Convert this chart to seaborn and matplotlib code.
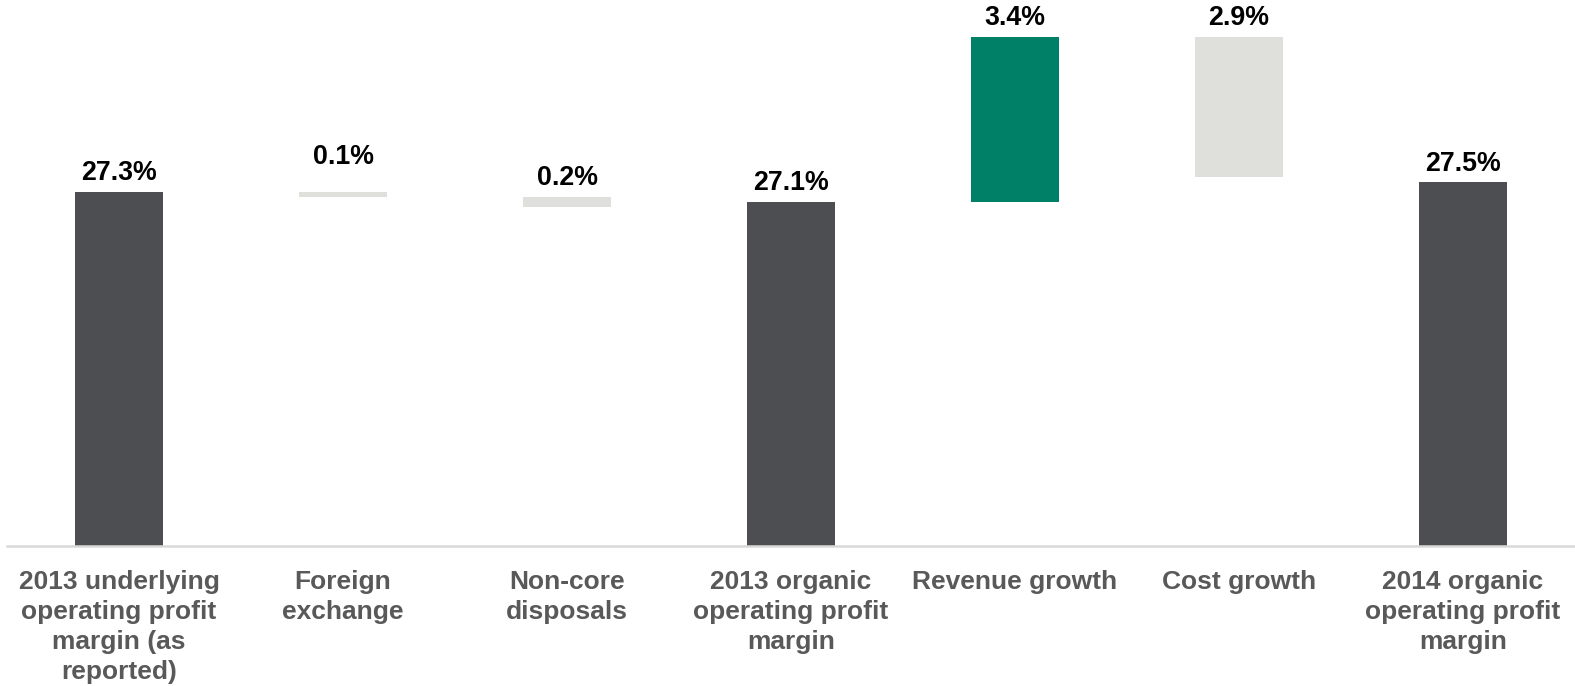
import numpy as np
import pandas as pd
import matplotlib
matplotlib.use("Agg")
import matplotlib.pyplot as plt
import seaborn as sns

# Operating profit margin bridge, 2013 -> 2014 (%)
categories = [
    "2013 underlying\noperating profit\nmargin (as\nreported)",
    "Foreign\nexchange",
    "Non-core\ndisposals",
    "2013 organic\noperating profit\nmargin",
    "Revenue growth",
    "Cost growth",
    "2014 organic\noperating profit\nmargin",
]
values = [27.3, -0.1, -0.2, 27.1, 3.4, -2.9, 27.5]
is_total = [True, False, False, True, False, False, True]

TOTAL_COLOR = "#4D4E52"
UP_COLOR = "#008066"
DOWN_COLOR = "#DFE0DC"

# Waterfall geometry: totals stand on the floor, steps float from the running level
bottoms, heights, colors, tops = [], [], [], []
level = 0.0
for v, tot in zip(values, is_total):
    if tot:
        bottoms.append(0.0)
        heights.append(v)
        colors.append(TOTAL_COLOR)
        level = v
    else:
        lo = level + min(v, 0.0)
        bottoms.append(lo)
        heights.append(abs(v))
        colors.append(UP_COLOR if v > 0 else DOWN_COLOR)
        level += v
    tops.append(bottoms[-1] + heights[-1])

df = pd.DataFrame({"category": categories, "height": heights})

sns.set_theme(style="white")
plt.rcParams["font.family"] = ["Liberation Sans", "DejaVu Sans"]

fig = plt.figure(figsize=(15.75, 6.86), dpi=100)
ax = fig.add_axes([7 / 1575, 140 / 686, 1568 / 1575, 546 / 686])

sns.barplot(data=df, x="category", y="height", bottom=np.array(bottoms),
            width=0.395, color=TOTAL_COLOR, ax=ax, linewidth=0, saturation=1)
for patch, c in zip(ax.patches, colors):
    patch.set_facecolor(c)
    patch.set_edgecolor(c)

ymin = 20.0
ax.set_ylim(ymin, ymin + 546 / 48.5)
ax.set_xlim(-0.5, 6.5)

# Value labels above each bar
label_lift = [4, 16, 4, 4, 4, 4, 4]
for i, (v, top) in enumerate(zip(values, tops)):
    ax.annotate(f"{abs(v):.1f}%", xy=(i, top), xytext=(0, label_lift[i]),
                textcoords="offset points", ha="center", va="bottom",
                fontsize=19.3, fontweight="bold", color="#000000")

ax.set_xlabel("")
ax.set_ylabel("")
ax.set_yticks([])
ax.tick_params(axis="x", length=0, pad=17)
for lab in ax.get_xticklabels():
    lab.set_fontsize(19)
    lab.set_fontweight("bold")
    lab.set_color("#595959")
    lab.set_linespacing(1.33)

for side in ["left", "right", "top"]:
    ax.spines[side].set_visible(False)
ax.spines["bottom"].set_color("#D9D9D9")
ax.spines["bottom"].set_linewidth(1.8)

fig.savefig("out.png", dpi=100)
